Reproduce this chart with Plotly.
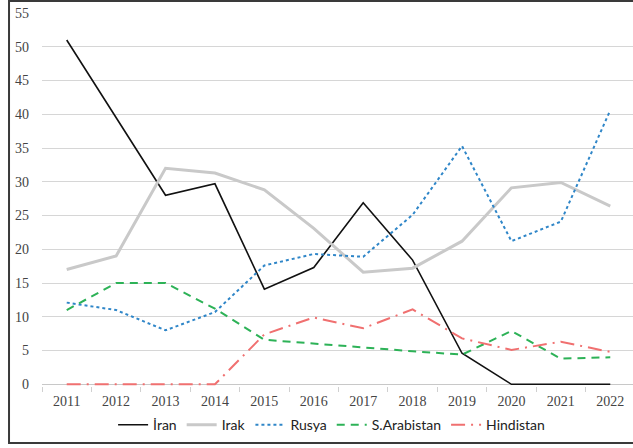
import plotly.graph_objects as go

years = ["2011", "2012", "2013", "2014", "2015", "2016", "2017", "2018", "2019", "2020", "2021", "2022"]
iran = [51, 39.4, 28.0, 29.7, 14.1, 17.3, 26.9, 18.4, 4.6, 0, 0, 0]
irak = [17, 19, 32.0, 31.3, 28.8, 23.1, 16.6, 17.2, 21.2, 29.1, 29.9, 26.4]
rusya = [12.1, 11.0, 8.0, 10.7, 17.6, 19.3, 18.9, 25.1, 35.3, 21.2, 24.1, 40.6]
sarabistan = [11, 15, 15, 11.2, 6.6, 6.0, 5.4, 4.9, 4.4, 7.9, 3.8, 4.0]
hindistan = [0, 0, 0, 0, 7.4, 9.9, 8.3, 11.1, 6.8, 5.1, 6.3, 4.8]
yticks = [0, 5, 10, 15, 20, 25, 30, 35, 40, 45, 50, 55]

fig = go.Figure()
series = [
    ("İran", iran, dict(color="#111111", width=1.6, dash="solid")),
    ("Irak", irak, dict(color="#c9c9c9", width=3, dash="solid")),
    ("Rusya", rusya, dict(color="#2f86c8", width=2, dash="dot")),
    ("S.Arabistan", sarabistan, dict(color="#2db257", width=2, dash="8px,6px")),
    ("Hindistan", hindistan, dict(color="#f07070", width=2, dash="14px,6px,2px,6px")),
]
for name, vals, line in series:
    fig.add_trace(go.Scatter(x=years, y=vals, name=name, mode="lines", line=line))

fig.update_layout(
    width=633, height=448,
    margin=dict(l=42, r=0, t=13, b=62),
    paper_bgcolor="white", plot_bgcolor="white",
    showlegend=True,
    legend=dict(orientation="h", x=0.49, xanchor="center", y=-0.062, yanchor="top",
                font=dict(family="Lato", size=14, color="#222222"),
                itemwidth=30, tracegroupgap=0),
    xaxis=dict(type="category", range=[-0.5, 11.46], showgrid=False,
               ticks="outside", tickson="boundaries", ticklen=5, tickcolor="#d0d0d0",
               ticklabelstandoff=5,
               showline=False, zeroline=False,
               tickfont=dict(family="Liberation Serif", size=14, color="#444444")),
    yaxis=dict(range=[-0.25, 55], tickvals=yticks, showgrid=True, gridcolor="#d6d6d6",
               gridwidth=1, zeroline=True, zerolinecolor="#c8c8c8", zerolinewidth=1,
               showline=False, ticks="", ticklabelstandoff=12,
               tickfont=dict(family="Liberation Serif", size=14, color="#444444")),
    shapes=[dict(type="rect", xref="paper", yref="paper",
                 x0=-0.0558, x1=1.2, y0=-0.153, y1=1.032,
                 line=dict(color="#3a3a3a", width=2), layer="above")],
)

fig.write_html("out.html", config={"displayModeBar": False},
               post_script="document.body.style.margin='0';document.body.style.overflow='hidden';")
